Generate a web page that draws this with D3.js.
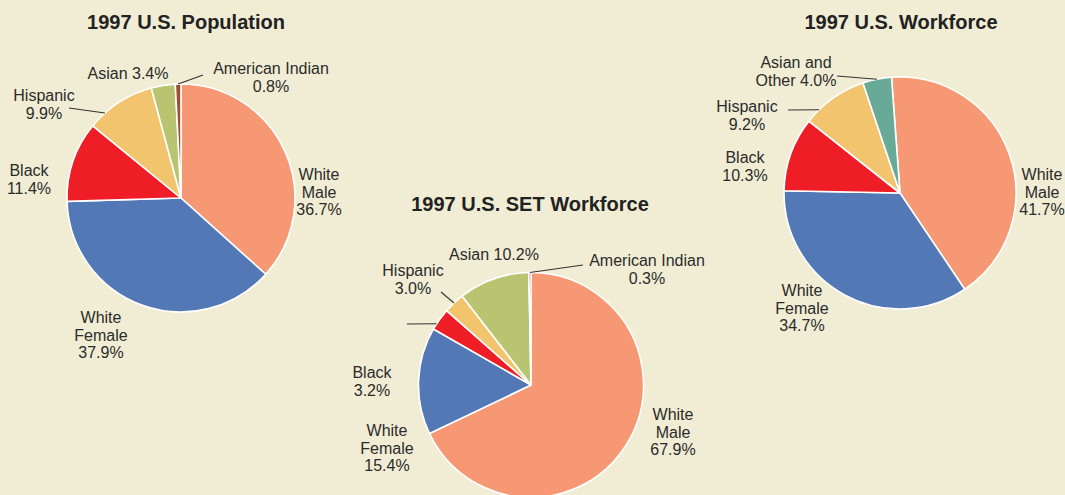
<!DOCTYPE html>
<html><head><meta charset="utf-8">
<script src="https://cdn.jsdelivr.net/npm/d3@7"></script>
<style>
html,body{margin:0;padding:0;background:#F0EDD4;}
svg{display:block;}
text{font-family:"Liberation Sans",Arial,sans-serif;fill:#2b2b2b;}
</style></head><body>
<svg id="chart" width="1065" height="495"></svg>
<script>
// ---- data ----
const popTitle = "1997 U.S. Population";
const popCats = ["White Male","White Female","Black","Hispanic","Asian","American Indian"];
const popVals = [36.7, 37.9, 11.4, 9.9, 3.4, 0.8];

const setTitle = "1997 U.S. SET Workforce";
const setCats = ["White Male","White Female","Black","Hispanic","Asian","American Indian"];
const setVals = [67.9, 15.4, 3.2, 3.0, 10.2, 0.3];

const wfTitle = "1997 U.S. Workforce";
const wfCats = ["White Male","White Female","Black","Hispanic","Asian and Other"];
const wfVals = [41.7, 34.7, 10.3, 9.2, 4.0];

const colors = {
  "White Male":"#F69874","White Female":"#5378B6","Black":"#EE1D26",
  "Hispanic":"#F2C46E","Asian":"#B8C46F","American Indian":"#A04E31",
  "Asian and Other":"#69A997"
};

const svg = d3.select("#chart");
const fmt = v => v.toFixed(1) + "%";

function drawPie(cfg){
  const g = svg.append("g").attr("transform",`translate(${cfg.cx},${cfg.cy})`);
  const rad = Math.PI/180;
  const pie = d3.pie().sort(null).value(d=>d.v)
    .startAngle(cfg.start*rad).endAngle(cfg.start*rad + 2*Math.PI);
  const data = cfg.cats.map((c,i)=>({c, v:cfg.vals[i]}));
  const arcs = pie(data);
  const arc = d3.arc().innerRadius(0).outerRadius(cfg.r);
  g.selectAll("path").data(arcs).join("path")
    .attr("d",arc).attr("fill",d=>colors[d.data.c])
    .attr("stroke","#ffffff").attr("stroke-width",1.6).attr("stroke-linejoin","round");
  // title
  svg.append("text").attr("x",cfg.title.x).attr("y",cfg.title.y)
    .attr("text-anchor","middle").attr("font-size",20).attr("font-weight","bold")
    .style("fill","#222").text(cfg.title.t);
  // labels
  cfg.labels.forEach(L=>{
    const idx = cfg.cats.indexOf(L.cat);
    const a = arcs[idx];
    const t = svg.append("text").attr("text-anchor","middle").attr("font-size",16);
    L.lines.forEach((ln,k)=>{
      const s = ln.replace("{v}", fmt(cfg.vals[idx]));
      t.append("tspan").attr("x",L.x).attr("y",L.y + k*17.6).text(s);
    });
    if(L.lead){
      const ang = a.startAngle + (a.endAngle-a.startAngle)*L.lead.f;
      const px = cfg.cx + cfg.r*Math.sin(ang), py = cfg.cy - cfg.r*Math.cos(ang);
      svg.append("line").attr("x1",px).attr("y1",py)
        .attr("x2",L.lead.x).attr("y2",L.lead.y)
        .attr("stroke","#333").attr("stroke-width",1.1);
    }
  });
}

drawPie({
  cx:181, cy:198, r:114, start:0, cats:popCats, vals:popVals,
  title:{t:popTitle, x:186, y:29},
  labels:[
    {cat:"American Indian", lines:["American Indian","{v}"], x:271, y:74, lead:{f:0.5, x:203, y:75}},
    {cat:"Asian", lines:["Asian {v}"], x:128, y:79},
    {cat:"Hispanic", lines:["Hispanic","{v}"], x:44, y:101, lead:{f:0.25, x:69, y:108}},
    {cat:"Black", lines:["Black","{v}"], x:29, y:176},
    {cat:"White Male", lines:["White","Male","{v}"], x:319, y:180},
    {cat:"White Female", lines:["White","Female","{v}"], x:101, y:323}
  ]
});

drawPie({
  cx:531, cy:385, r:112.5, start:0, cats:setCats, vals:setVals,
  title:{t:setTitle, x:530, y:211},
  labels:[
    {cat:"American Indian", lines:["American Indian","{v}"], x:647, y:266, lead:{f:0.5, x:583, y:265}},
    {cat:"Asian", lines:["Asian {v}"], x:494, y:260},
    {cat:"Hispanic", lines:["Hispanic","{v}"], x:413, y:276, lead:{f:0.5, x:441, y:292}},
    {cat:"Black", lines:["Black","{v}"], x:372, y:378, lead:{f:0.27, x:407, y:324}},
    {cat:"White Male", lines:["White","Male","{v}"], x:673, y:420},
    {cat:"White Female", lines:["White","Female","{v}"], x:387, y:436}
  ]
});

drawPie({
  cx:900, cy:193, r:116, start:-4.2, cats:wfCats, vals:wfVals,
  title:{t:wfTitle, x:901, y:29},
  labels:[
    {cat:"Asian and Other", lines:["Asian and","Other {v}"], x:796, y:68, lead:{f:0.5, x:837, y:76}},
    {cat:"Hispanic", lines:["Hispanic","{v}"], x:747, y:112, lead:{f:0.23, x:788, y:110}},
    {cat:"Black", lines:["Black","{v}"], x:745, y:163},
    {cat:"White Male", lines:["White","Male","{v}"], x:1042, y:180},
    {cat:"White Female", lines:["White","Female","{v}"], x:802, y:296}
  ]
});
</script>
</body></html>
